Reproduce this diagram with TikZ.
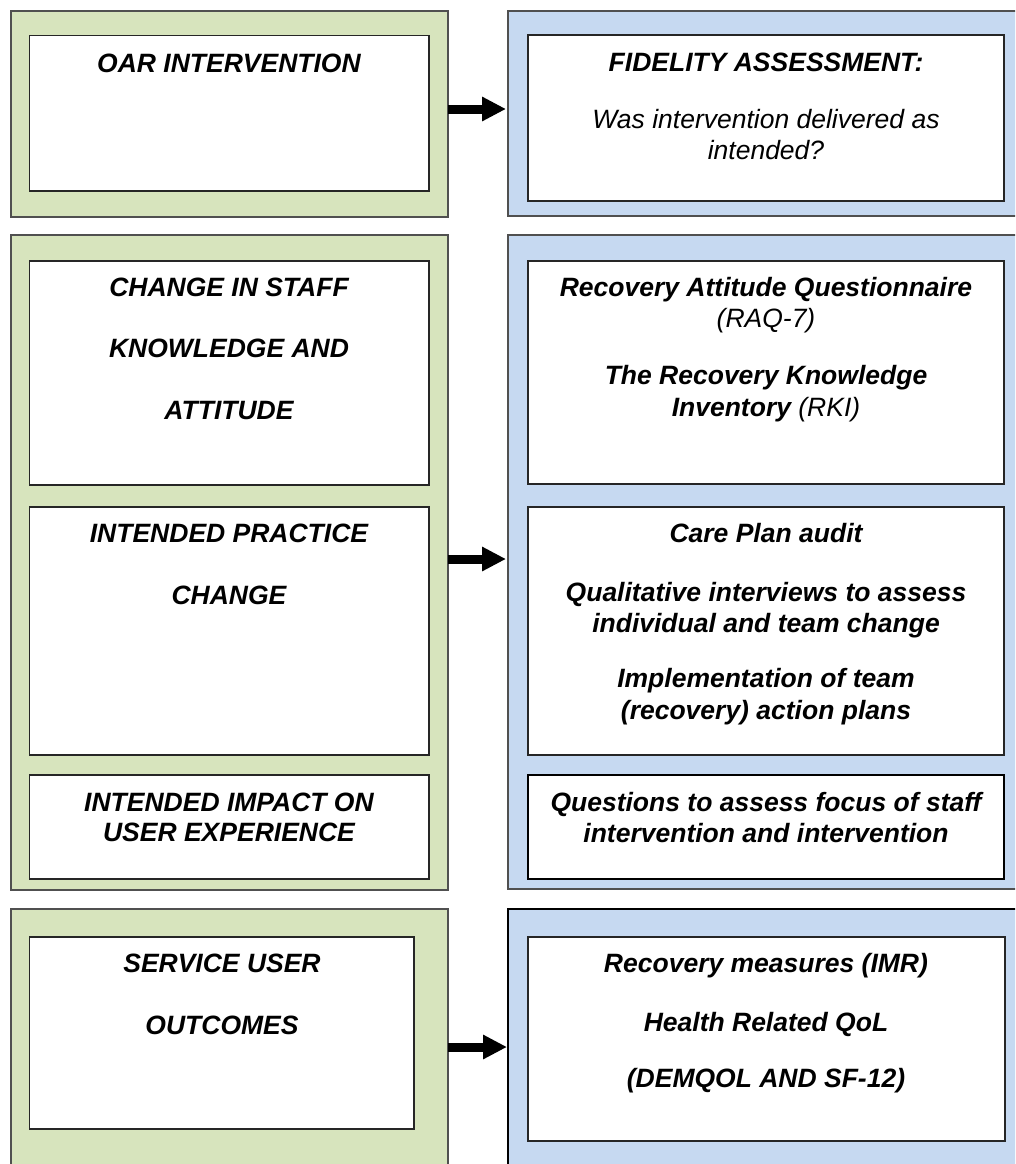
\documentclass[tikz,border=0pt]{standalone}
\usepackage{fontspec}
\setmainfont{Liberation Sans}
\usetikzlibrary{arrows.meta}
\definecolor{greenfill}{HTML}{D7E4BD}
\definecolor{bluefill}{HTML}{C6D9F1}
\definecolor{edgegray}{HTML}{505050}
\tikzset{
  outerg/.style={draw=edgegray, line width=1.2pt, fill=greenfill},
  outerb/.style={draw=edgegray, line width=1.2pt, fill=bluefill},
  inbox/.style={draw=black!85, line width=1.2pt, fill=white},
  txt/.style={anchor=base, inner sep=0pt,
     font=\fontsize{26.5}{31}\selectfont\bfseries\itshape},
  txtr/.style={txt, font=\fontsize{26.5}{31}\selectfont\mdseries\itshape},
  bigarrow/.style={line width=9pt, -{Triangle[length=24pt,width=23pt]}}
}
\newcommand{\rmit}[1]{{\mdseries\itshape #1}}
\begin{document}
\begin{tikzpicture}[x=1pt,y=-1pt]
\useasboundingbox (0,0) rectangle (1015,1164);
\clip (0,0) rectangle (1015,1164);
\fill[white] (0,0) rectangle (1015,1164);
% outer green
\draw[outerg] (11,11) rectangle (448,217);
\draw[outerg] (11,235) rectangle (448,890);
\draw[outerg] (11,909) rectangle (448,1190);
% outer blue
\draw[outerb] (508,11) rectangle (1030,216);
\draw[outerb] (508,235) rectangle (1030,889);
\draw[outerb, draw=black, line width=2pt] (508,909) rectangle (1030,1190);
% connector end points on the outer box edges
\coordinate (g1) at (448,109); \coordinate (b1) at (506,109);
\coordinate (g2) at (448,559); \coordinate (b2) at (506,559);
\coordinate (g3) at (448,1047); \coordinate (b3) at (507,1047);
% inner boxes left
\draw[inbox] (29.5,35.5) rectangle (429,191);
\draw[inbox] (29.5,261) rectangle (429,485);
\draw[inbox] (29.5,507) rectangle (429,755);
\draw[inbox] (29.5,775) rectangle (429,879);
\draw[inbox] (29.5,937) rectangle (414,1129);
% inner boxes right
\draw[inbox] (528,35) rectangle (1004,201);
\draw[inbox] (528,261) rectangle (1004,484);
\draw[inbox] (528,507) rectangle (1004,755);
\draw[inbox, draw=black, line width=2pt] (528,775) rectangle (1004,879);
\draw[inbox] (528,937) rectangle (1005,1141);
% arrows
\draw[bigarrow] (g1) -- (b1);
\draw[bigarrow] (g2) -- (b2);
\draw[bigarrow] (g3) -- (b3);
% left texts (y = line centre + 9.5)
\node[txt] (t1)  at (229,72.5)  {OAR INTERVENTION};
\node[txt] (t2a) at (229,296.5) {CHANGE IN STAFF};
\node[txt] (t2b) at (229,357.5) {KNOWLEDGE AND};
\node[txt] (t2c) at (229,419.5) {ATTITUDE};
\node[txt] (t3a) at (229,542.5) {INTENDED PRACTICE};
\node[txt] (t3b) at (229,604.5) {CHANGE};
\node[txt] (t4a) at (229,811.5) {INTENDED IMPACT ON};
\node[txt] (t4b) at (229,841.5) {USER EXPERIENCE};
\node[txt] (t5a) at (222,972.5) {SERVICE USER};
\node[txt] (t5b) at (222,1034.5) {OUTCOMES};
% right texts
\node[txt]  (r1a) at (766,71.5)  {FIDELITY ASSESSMENT:};
\node[txtr] (r1b) at (766,128.5) {Was intervention delivered as};
\node[txtr] (r1c) at (766,159.5) {intended?};
\node[txt]  (r2a) at (766,296.5) {Recovery Attitude Questionnaire};
\node[txtr] (r2b) at (766,327.5) {(RAQ-7)};
\node[txt]  (r2c) at (766,384.5) {The Recovery Knowledge};
\node[txt]  (r2d) at (766,416.5) {Inventory \rmit{(RKI)}};
\node[txt]  (r3a) at (766,542.5) {Care Plan audit};
\node[txt]  (r3b) at (766,601.5) {Qualitative interviews to assess};
\node[txt]  (r3c) at (766,632.5) {individual and team change};
\node[txt]  (r3d) at (766,687.5) {Implementation of team};
\node[txt]  (r3e) at (766,719.5) {(recovery) action plans};
\node[txt]  (r4a) at (766,811.5) {Questions to assess focus of staff};
\node[txt]  (r4b) at (766,842.5) {intervention and intervention};
\node[txt]  (r5a) at (766,972.5) {Recovery measures (IMR)};
\node[txt]  (r5b) at (766,1031.5) {Health Related QoL};
\node[txt]  (r5c) at (766,1087.5) {(DEMQOL AND SF-12)};
\end{tikzpicture}
\end{document}
